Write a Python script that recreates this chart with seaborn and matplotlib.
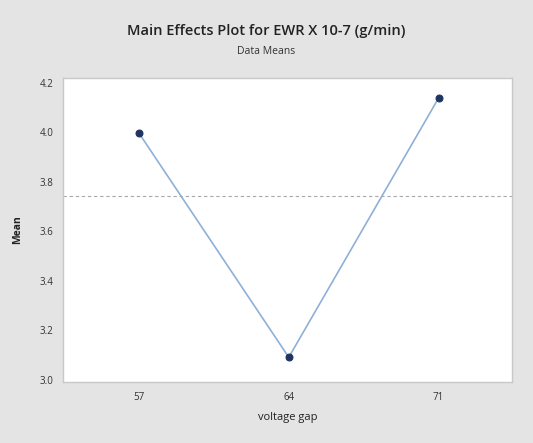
import matplotlib
matplotlib.use("Agg")
import matplotlib.pyplot as plt
import seaborn as sns
import pandas as pd

# Main effect of voltage gap on EWR (data means)
gap_levels = ["57", "64", "71"]
ewr_means = [3.997, 3.09, 4.139]
y_ticks = [3.0, 3.2, 3.4, 3.6, 3.8, 4.0, 4.2]
grand_mean = sum(ewr_means) / len(ewr_means)

df = pd.DataFrame({"voltage gap": gap_levels, "Mean": ewr_means})

sns.set_theme(style="white")
plt.rcParams["font.family"] = ["Open Sans", "DejaVu Sans"]

bg = "#e4e4e4"
fig = plt.figure(figsize=(5.33, 4.43), dpi=100, facecolor=bg)
ax = fig.add_axes([63 / 533, 1 - 382 / 443, (512 - 63) / 533, (382 - 78) / 443])
ax.set_facecolor("white")

sns.lineplot(data=df, x="voltage gap", y="Mean", ax=ax, color="#8fb0d6",
             linewidth=1.2, marker="o", markersize=5,
             markerfacecolor="#1f3560", markeredgecolor="#1f3560", sort=False)

ax.axhline(grand_mean, color="#a8a8a8", linestyle=(0, (3, 2.5)), linewidth=0.8)

ax.set_xlim(-0.507, 2.49)
ax.set_ylim(2.99, 4.22)
ax.set_yticks(y_ticks)
ax.set_yticklabels([f"{v:.1f}" for v in y_ticks])

for s in ax.spines.values():
    s.set_color("#c8c8c8")
    s.set_linewidth(1.0)

ax.tick_params(axis="both", which="major", labelsize=7, colors="#333333",
               length=3, width=0.6, direction="out", pad=4)
ax.tick_params(axis="both", color="#b0b0b0")

ax.set_xlabel("voltage gap", fontsize=8, color="#222222", labelpad=7)
ax.set_ylabel("Mean", fontsize=7.5, color="#222222", fontweight="bold", labelpad=12)

fig.text(0.5, 1 - 31 / 443, "Main Effects Plot for EWR X 10-7 (g/min)",
         ha="center", va="center", fontsize=10.5, fontweight="semibold", color="#222222")
fig.text(0.5, 1 - 51 / 443, "Data Means", ha="center", va="center",
         fontsize=7.5, color="#333333")

fig.savefig("out.png", dpi=100, facecolor=bg)
